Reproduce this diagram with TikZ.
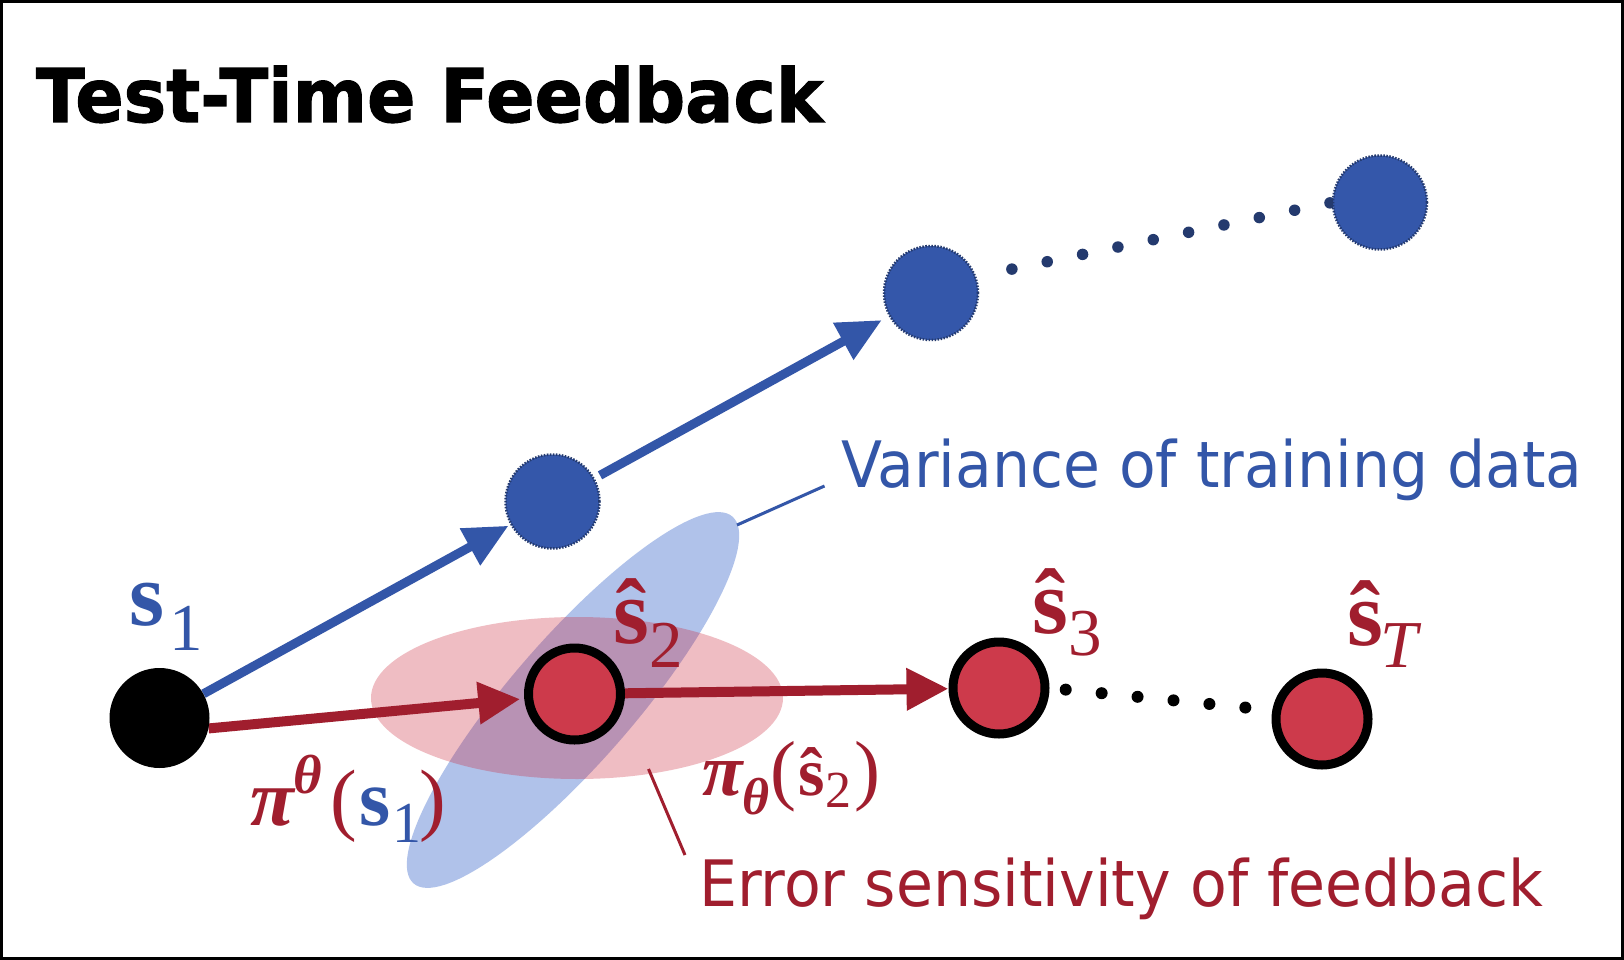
\documentclass[tikz,border=0pt]{standalone}
\usepackage{fontspec}
\usepackage{graphicx}
\usetikzlibrary{arrows.meta}
\newfontfamily\vsans{DejaVu Sans}
\newfontfamily\titlefont{DejaVu Sans}[BoldFeatures={FakeBold=1.5}]
\newfontfamily\tms{Liberation Serif}
\newcommand\fsz[1]{\fontsize{#1pt}{#1pt}\selectfont}
\definecolor{myblue}{RGB}{51,86,168}
\definecolor{cblue}{RGB}{52,87,170}
\definecolor{navy}{RGB}{36,58,110}
\definecolor{dred}{RGB}{160,30,46}
\definecolor{cred}{RGB}{205,58,75}
\definecolor{lblue}{RGB}{176,194,234}
\definecolor{pinkc}{RGB}{205,38,58}
\pgfdeclarelayer{paper}
\pgfdeclarelayer{ell}
\pgfdeclarelayer{conn}
\pgfsetlayers{paper,ell,conn,main}
\begin{document}
\begin{tikzpicture}[x=1pt,y=-1pt,
  lab/.style={anchor=base west, inner sep=0pt, outer sep=0pt},
  bnode/.style={circle, inner sep=0pt, minimum size=94pt, fill=cblue, draw=navy, line width=2.5pt, dash pattern=on 1.5pt off 1.5pt},
  rnode/.style={circle, inner sep=0pt, minimum size=92pt, fill=cred, draw=black, line width=9pt},
  barrow/.style={draw=myblue, line width=9pt, -{Triangle[length=44pt,width=40pt]}},
  rarrow/.style={draw=dred, line width=10pt, -{Triangle[length=42pt,width=40pt]}},
  bdots/.style={draw=navy, line width=11.5pt, line cap=round, dash pattern=on 0pt off 36.1pt},
  kdots/.style={draw=black, line width=12pt, line cap=round, dash pattern=on 0pt off 36.1pt},
  leader/.style={line width=3pt}
]
\useasboundingbox (0,0) rectangle (1624,960);
\begin{pgfonlayer}{paper}
\fill[white] (0,0) rectangle (1624,960);
\end{pgfonlayer}

% ellipses
\begin{pgfonlayer}{ell}
\fill[lblue, rotate around={49:(573,700)}] (573,700) ellipse [x radius=243pt, y radius=62pt];
\fill[pinkc, fill opacity=0.3] (577,698) ellipse [x radius=206pt, y radius=81pt];
\end{pgfonlayer}

% nodes
\node[circle, fill=black, inner sep=0pt, minimum size=100pt] (s1) at (159.5,718) {};
\node[bnode] (b1) at (552.5,501.5) {};
\node[bnode] (b2) at (931,293) {};
\node[bnode] (b3) at (1380,202.5) {};
\node[rnode] (s2) at (574.5,694) {};
\node[rnode] (s3) at (999,688) {};
\node[rnode] (sT) at (1322,719) {};

% connectors
\begin{pgfonlayer}{conn}
\draw[barrow, shorten >=2pt] (s1) -- (b1);
\draw[barrow, shorten <=6pt, shorten >=8pt] (b1) -- (b2);
\draw[rarrow, shorten >=4pt] (s1.-12) -- (s2);
\draw[rarrow] (s2) -- (s3);
\draw[bdots, shorten <=36.3pt] (b2.20) -- (b3.west);
\draw[kdots, shorten <=16.3pt, shorten >=20pt] (s3.east) -- (sT.170);
\coordinate (vA) at (737,525);
\coordinate (vB) at (824.5,486);
\draw[leader, myblue] (vA) -- (vB);
\coordinate (eA) at (648.5,769);
\coordinate (eB) at (685,855);
\draw[leader, dred] (eA) -- (eB);
\end{pgfonlayer}

% frame
\draw[line width=3pt] (1.5,1.5) rectangle (1622.5,958.5);

% texts
\node[lab] (title) at (36,122) {\titlefont\bfseries\fsz{74}\scalebox{0.965}[1]{Test-Time Feedback}};
\node[lab, text=myblue] (var) at (841,487) {\vsans\fsz{64}\scalebox{0.937}[1]{Variance of training data}};
\node[lab, text=dred] (err) at (699,906) {\vsans\fsz{64}\scalebox{0.94}[1]{Error sensitivity of feedback}};

\node[lab, text=myblue] (ls1) at (129,625) {\tms\fsz{90}\bfseries s\kern5pt\raisebox{-25pt}{\fsz{67}\mdseries 1}};
\node[lab, text=dred] (ls2) at (613,643) {\tms\fsz{92}\bfseries ŝ\kern1pt\raisebox{-24pt}{\fsz{67}\mdseries 2}};
\node[lab, text=dred] (ls3) at (1032,633) {\tms\fsz{92}\bfseries ŝ\kern1pt\raisebox{-22pt}{\fsz{67}\mdseries 3}};
\node[lab, text=dred] (lsT) at (1347,645) {\tms\fsz{92}\bfseries ŝ\kern-2pt\raisebox{-22pt}{\fsz{67}\mdseries\itshape T}};

\node[lab, text=dred] (pi1) at (250,825) {\tms\fsz{80}\bfseries\itshape π\raisebox{32pt}{\fsz{55}θ}\kern8pt{\mdseries\upshape (}\kern3pt{\color{myblue}\upshape s\kern2pt\raisebox{-17pt}{\fsz{58}\mdseries 1}}\kern-2pt{\mdseries\upshape )}};
\node[lab, text=dred] (pi2) at (702,795) {\tms\fsz{74}\bfseries\itshape π\raisebox{-19pt}{\fsz{52}θ}\kern1pt{\fsz{78}\mdseries\upshape (}\kern2pt{\fsz{68}\upshape ŝ\kern1pt\raisebox{-12pt}{\fsz{52}\mdseries 2}}\kern3pt{\fsz{78}\mdseries\upshape )}};
\end{tikzpicture}
\end{document}
